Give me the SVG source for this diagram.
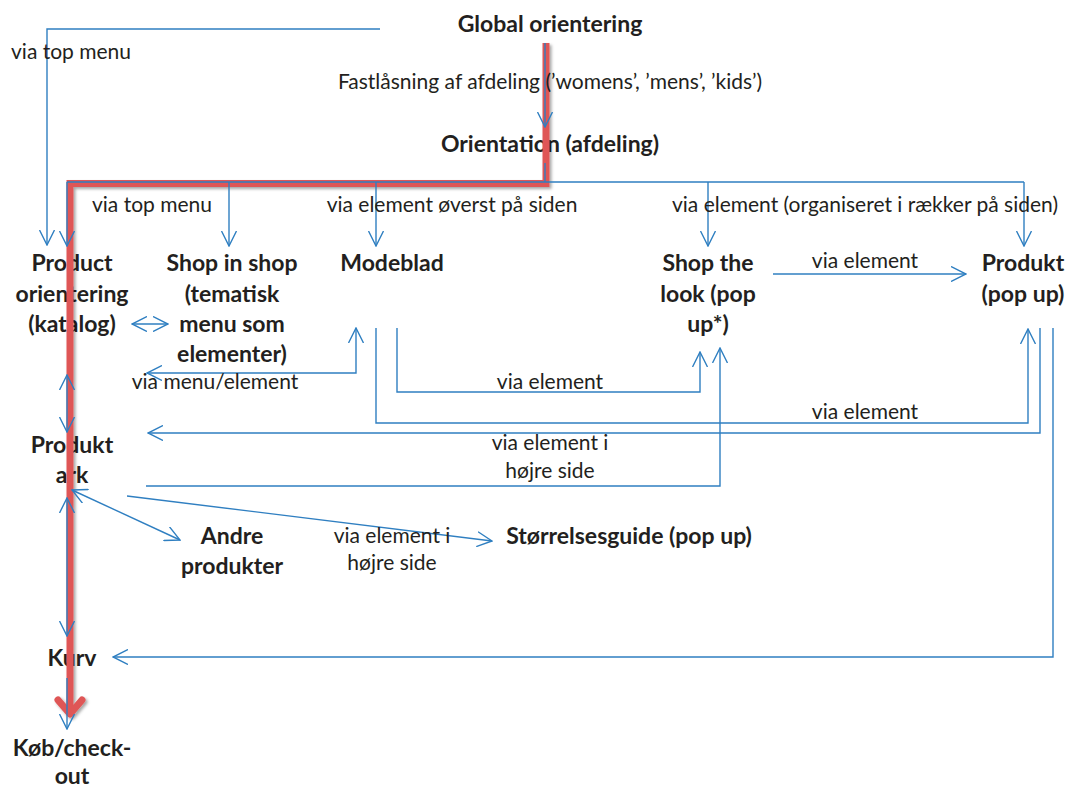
<svg xmlns="http://www.w3.org/2000/svg" width="1068" height="788" viewBox="0 0 1068 788">
  <style>
    text { font-family: Lato, "Liberation Sans", sans-serif; fill: #231f20; }
    .node text { font-size: 23px; font-weight: bold; text-anchor: middle; }
    .lbl { font-size: 21px; }
    .mid { text-anchor: middle; }
    .conn path { fill: none; stroke: #2f7fc1; stroke-width: 1.4; }
    .ar { marker-end: url(#ah); }
    .ar2 { marker-start: url(#ah); marker-end: url(#ah); }
    .path-hl { fill: none; stroke: #df5757; stroke-width: 7; stroke-linejoin: miter; }
  </style>
  <defs>
    <marker id="ah" viewBox="0 0 16 16" markerWidth="16" markerHeight="16" refX="15" refY="8" orient="auto-start-reverse" markerUnits="userSpaceOnUse">
      <path d="M0,0.5 L15,8 L0,15.5" fill="none" stroke="#2f7fc1" stroke-width="1.4"/>
    </marker>
    <filter id="shadow" x="-5%" y="-5%" width="110%" height="110%">
      <feDropShadow dx="2" dy="2" stdDeviation="1.8" flood-color="#000" flood-opacity="0.35"/>
    </filter>
  </defs>
  <rect width="1068" height="788" fill="#fff"/>

  <!-- nodes -->
  <g id="global" class="node"><text x="550" y="32">Global orientering</text></g>
  <g id="orientation" class="node"><text x="550" y="152">Orientation (afdeling)</text></g>
  <g id="product-orientering" class="node">
    <text x="72" y="271">Product</text>
    <text x="72" y="302">orientering</text>
    <text x="72" y="332">(katalog)</text>
  </g>
  <g id="shop-in-shop" class="node">
    <text x="232" y="271">Shop in shop</text>
    <text x="232" y="302">(tematisk</text>
    <text x="232" y="332">menu som</text>
    <text x="232" y="362">elementer)</text>
  </g>
  <g id="modeblad" class="node"><text x="392" y="271">Modeblad</text></g>
  <g id="shop-the-look" class="node">
    <text x="708" y="271">Shop the</text>
    <text x="708" y="302">look (pop</text>
    <text x="708" y="332">up*)</text>
  </g>
  <g id="produkt-popup" class="node">
    <text x="1023" y="271">Produkt</text>
    <text x="1023" y="302">(pop up)</text>
  </g>
  <g id="produkt-ark" class="node">
    <text x="72" y="453">Produkt</text>
    <text x="72" y="483">ark</text>
  </g>
  <g id="andre-produkter" class="node">
    <text x="232" y="544">Andre</text>
    <text x="232" y="574">produkter</text>
  </g>
  <g id="storrelsesguide" class="node"><text x="629" y="544">Størrelsesguide (pop up)</text></g>
  <g id="kurv" class="node"><text x="72" y="666">Kurv</text></g>
  <g id="checkout" class="node">
    <text x="72" y="756">Køb/check-</text>
    <text x="72" y="784">out</text>
  </g>

  <!-- highlighted main path -->
  <g id="main-path" filter="url(#shadow)">
    <path class="path-hl" d="M546,43 V183.5 H70 V712"/>
    <path d="M58,700 L70,714 L82,700" fill="none" stroke="#df5757" stroke-width="7" stroke-linecap="round" stroke-linejoin="round"/>
  </g>

  <!-- connectors -->
  <g id="connectors" class="conn">
    <path class="ar" d="M380,29 H47 V245"/>
    <path class="ar" d="M545,43 V127"/>
    <path d="M545,163 V182 M67,182 H1024"/>
    <path class="ar" d="M67,182 V246"/>
    <path class="ar" d="M229,182 V246"/>
    <path class="ar" d="M376,182 V246"/>
    <path class="ar" d="M708,182 V246"/>
    <path class="ar" d="M1024,182 V246"/>
    <path class="ar2" d="M132,324 H168"/>
    <path class="ar2" d="M356,328 V373 H147"/>
    <path class="ar" d="M397,328 V392 H700 V352"/>
    <path class="ar" d="M376,328 V423 H1028 V329"/>
    <path class="ar" d="M1040,328 V433 H148"/>
    <path class="ar" d="M146,486 H720 V348"/>
    <path class="ar" d="M1053,328 V657 H113"/>
    <path class="ar" d="M773,274 H966"/>
    <path class="ar2" d="M67,375 V432"/>
    <path class="ar2" d="M67,498 V636"/>
    <path class="ar" d="M67,678 V729"/>
    <path class="ar2" d="M72,490 L180,540"/>
    <path class="ar" d="M127,496 L492,541"/>
  </g>

  <!-- connector labels -->
  <g id="labels" class="lbl">
    <text x="11" y="59">via top menu</text>
    <text x="550" y="89" class="mid">Fastlåsning af afdeling (’womens’, ’mens’, ’kids’)</text>
    <text x="152" y="212" class="mid">via top menu</text>
    <text x="452" y="212" class="mid">via element øverst på siden</text>
    <text x="865" y="212" class="mid">via element (organiseret i rækker på siden)</text>
    <text x="865" y="268" class="mid">via element</text>
    <text x="215" y="389" class="mid">via menu/element</text>
    <text x="550" y="389" class="mid">via element</text>
    <text x="865" y="419" class="mid">via element</text>
    <text x="550" y="450" class="mid">via element i</text>
    <text x="550" y="478" class="mid">højre side</text>
    <text x="392" y="543" class="mid">via element i</text>
    <text x="392" y="570" class="mid">højre side</text>
  </g>
</svg>
